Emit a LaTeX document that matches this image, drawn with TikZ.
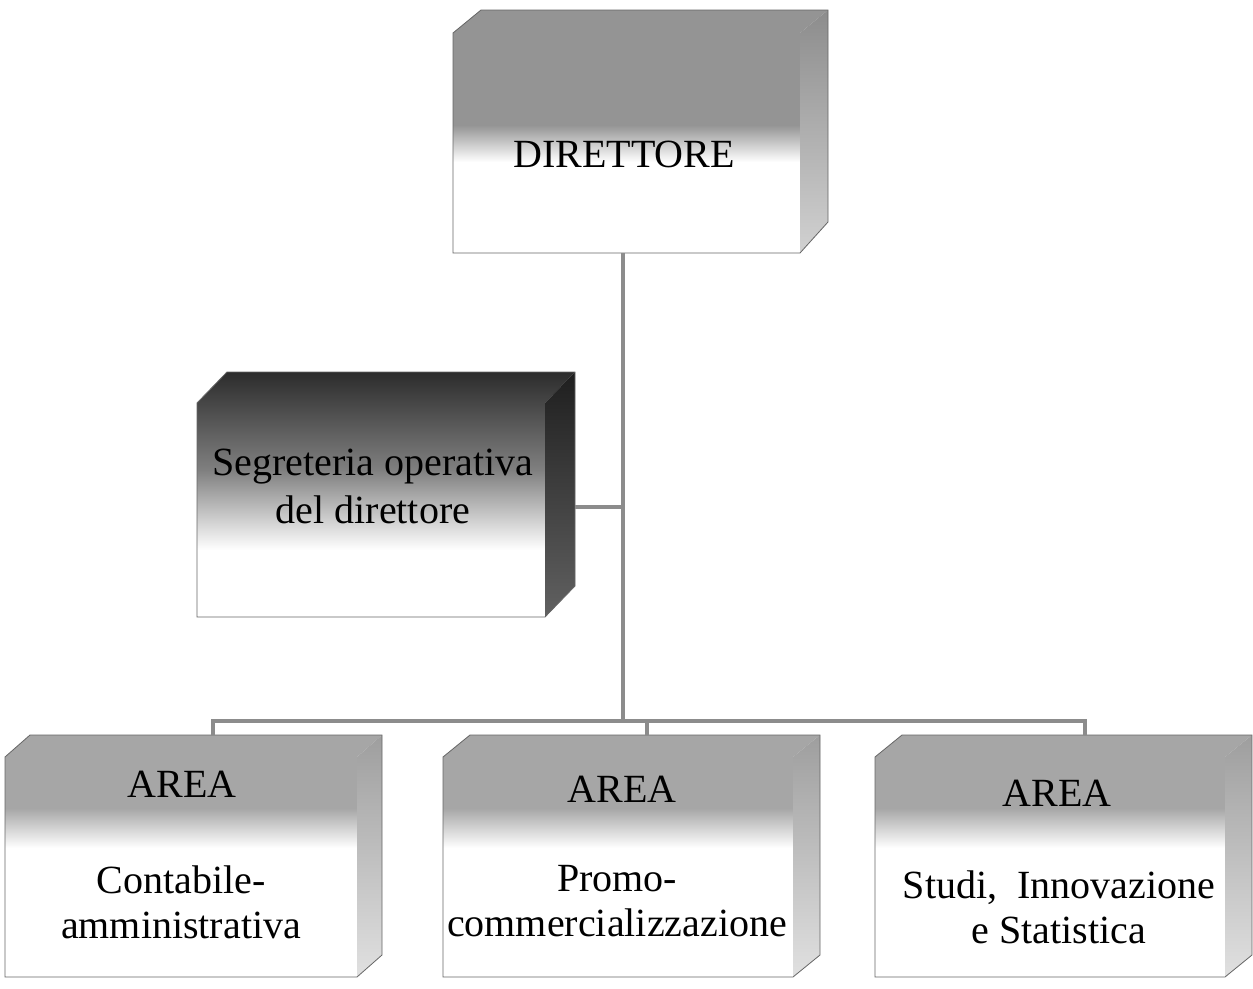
\documentclass[tikz,border=0pt]{standalone}
\usepackage{fontspec}
\setmainfont{Liberation Serif}
\begin{document}
\begin{tikzpicture}[x=1pt,y=-1pt,
  outl/.style={draw=black!60,line width=0.8pt},
  conn/.style={draw=black!45,line width=4pt},
  lbl/.style={font=\fontsize{40}{45}\selectfont,inner sep=0pt,align=center,text=black},
  lblseg/.style={lbl,font=\fontsize{40}{48}\selectfont}]
\useasboundingbox[fill=white] (0,0) rectangle (1253,988);

% ---------- DIRETTORE ----------
\begin{scope}
  \clip (453,253) -- (453,33) -- (481,10) -- (828,10) -- (800,33) -- (800,253) -- cycle;
  \fill[black!42] (440,0) rectangle (840,125);
  \shade[top color=black!42,bottom color=white] (440,125) rectangle (840,162);
\end{scope}
\shade[top color=black!45,bottom color=black!18] (800,33) -- (828,10) -- (828,222) -- (800,253) -- cycle;
\draw[outl] (453,253) -- (453,33) -- (481,10) -- (828,10) -- (828,222) -- (800,253) -- cycle;
\node[lbl,anchor=base] (dir) at (624,167) {DIRETTORE};
\coordinate (dirB) at (623,253);

% ---------- SEGRETERIA ----------
\begin{scope}
  \clip (197,617) -- (197,403) -- (227,372) -- (575,372) -- (545,403) -- (545,617) -- cycle;
  \shade[top color=black!85,bottom color=black!50] (190,365) rectangle (580,470);
  \shade[top color=black!50,bottom color=white] (190,470) rectangle (580,550);
\end{scope}
\shade[top color=black!88,bottom color=black!62] (545,403) -- (575,372) -- (575,586) -- (545,617) -- cycle;
\draw[outl] (197,617) -- (197,403) -- (227,372) -- (575,372) -- (575,586) -- (545,617) -- cycle;
\node[lblseg] (seg) at (373,486) {Segreteria operativa\\del direttore};
\coordinate (segR) at (575,507);

% ---------- AREA 1 ----------
\begin{scope}
  \clip (5,977) -- (5,757) -- (30,735) -- (382,735) -- (357,757) -- (357,977) -- cycle;
  \fill[black!35] (0,730) rectangle (390,808);
  \shade[top color=black!35,bottom color=white] (0,808) rectangle (390,848);
\end{scope}
\shade[top color=black!38,bottom color=black!12] (357,757) -- (382,735) -- (382,955) -- (357,977) -- cycle;
\draw[outl] (5,977) -- (5,757) -- (30,735) -- (382,735) -- (382,955) -- (357,977) -- cycle;
\node[lbl,anchor=base] (a1) at (182,797) {AREA};
\node[lbl] (a1t) at (181,902) {Contabile-\\amministrativa};
\coordinate (a1T) at (213,735);

% ---------- AREA 2 ----------
\begin{scope}
  \clip (443,977) -- (443,757) -- (470,735) -- (820,735) -- (793,757) -- (793,977) -- cycle;
  \fill[black!35] (430,730) rectangle (830,808);
  \shade[top color=black!35,bottom color=white] (430,808) rectangle (830,848);
\end{scope}
\shade[top color=black!38,bottom color=black!12] (793,757) -- (820,735) -- (820,955) -- (793,977) -- cycle;
\draw[outl] (443,977) -- (443,757) -- (470,735) -- (820,735) -- (820,955) -- (793,977) -- cycle;
\node[lbl,anchor=base] (a2) at (622,802) {AREA};
\node[lbl] (a2t) at (617,901) {Promo-\\commercializzazione};
\coordinate (a2T) at (647,735);

% ---------- AREA 3 ----------
\begin{scope}
  \clip (875,977) -- (875,757) -- (902,735) -- (1252,735) -- (1225,757) -- (1225,977) -- cycle;
  \fill[black!35] (860,730) rectangle (1253,808);
  \shade[top color=black!35,bottom color=white] (860,808) rectangle (1253,848);
\end{scope}
\shade[top color=black!38,bottom color=black!12] (1225,757) -- (1252,735) -- (1252,955) -- (1225,977) -- cycle;
\draw[outl] (875,977) -- (875,757) -- (902,735) -- (1252,735) -- (1252,955) -- (1225,977) -- cycle;
\node[lbl,anchor=base] (a3) at (1057,806) {AREA};
\node[lbl] (a3t) at (1059,907) {Studi,\ \ Innovazione\\e Statistica};
\coordinate (a3T) at (1085,735);

% ---------- CONNECTORS ----------
\coordinate (j) at (623,721);
\draw[conn] (dirB) -- (j);
\draw[conn] (segR) -- (segR -| dirB);
\draw[conn] (a1T) -- (a1T |- j) -- (a3T |- j) -- (a3T);
\draw[conn] (a2T) -- (a2T |- j);
\end{tikzpicture}
\end{document}
